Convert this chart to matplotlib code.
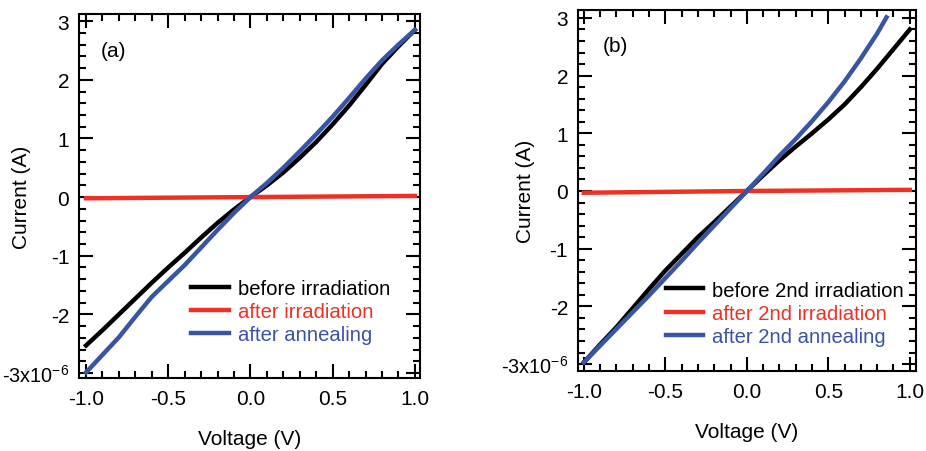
import numpy as np
import matplotlib
matplotlib.use("Agg")
import matplotlib.pyplot as plt
from matplotlib.ticker import FixedLocator, FixedFormatter, MultipleLocator

plt.rcParams['font.family'] = ['Liberation Sans', 'DejaVu Sans']
plt.rcParams['mathtext.fontset'] = 'custom'
plt.rcParams['mathtext.rm'] = 'Liberation Sans'
plt.rcParams['axes.unicode_minus'] = False

#-----data (current in units of 1e-6 A)-----#
v_a = [-1.0, -0.9, -0.8, -0.7, -0.6, -0.5, -0.4, -0.3, -0.2, -0.1, 0.0,
       0.1, 0.2, 0.3, 0.4, 0.5, 0.6, 0.7, 0.8, 0.9, 1.0]
before_a = [-2.53, -2.27, -2.00, -1.73, -1.46, -1.20, -0.95, -0.69, -0.44, -0.21, 0.0,
            0.20, 0.42, 0.67, 0.94, 1.24, 1.56, 1.91, 2.27, 2.57, 2.85]
after_irr_a = [-0.02, -0.018, -0.016, -0.014, -0.012, -0.01, -0.008, -0.006, -0.004, -0.002, 0.0,
               0.002, 0.004, 0.006, 0.008, 0.01, 0.012, 0.014, 0.016, 0.018, 0.02]
annealed_a = [-2.99, -2.69, -2.39, -2.04, -1.70, -1.43, -1.16, -0.86, -0.56, -0.27, 0.0,
              0.24, 0.50, 0.78, 1.07, 1.37, 1.69, 2.02, 2.33, 2.60, 2.85]

v_b = [-1.0, -0.9, -0.8, -0.7, -0.6, -0.5, -0.4, -0.3, -0.2, -0.1, 0.0,
       0.1, 0.2, 0.3, 0.4, 0.5, 0.6, 0.7, 0.8, 0.9, 1.0]
before_b = [-2.97, -2.66, -2.36, -2.03, -1.70, -1.38, -1.09, -0.80, -0.54, -0.27, 0.0,
            0.27, 0.53, 0.77, 1.00, 1.24, 1.50, 1.80, 2.12, 2.46, 2.80]
after_irr_b = [-0.03, -0.027, -0.024, -0.021, -0.018, -0.015, -0.012, -0.009, -0.006, -0.003, 0.0,
               0.002, 0.004, 0.006, 0.008, 0.01, 0.012, 0.014, 0.016, 0.018, 0.02]
v_b_ann = [-1.0, -0.9, -0.8, -0.7, -0.6, -0.5, -0.4, -0.3, -0.2, -0.1, 0.0,
           0.1, 0.2, 0.3, 0.4, 0.5, 0.6, 0.7, 0.8, 0.857]
annealed_b = [-2.97, -2.68, -2.39, -2.10, -1.81, -1.51, -1.21, -0.90, -0.60, -0.30, 0.0,
              0.30, 0.61, 0.90, 1.21, 1.54, 1.90, 2.30, 2.73, 3.01]

yticks = [-3, -2, -1, 0, 1, 2, 3]
ytick_labels = [r'-3x10$^{-6}$', '-2', '-1', '0', '1', '2', '3']
xticks = [-1.0, -0.5, 0.0, 0.5, 1.0]
xtick_labels = ['-1.0', '-0.5', '0.0', '0.5', '1.0']
#-----data-----#

black = '#000000'
red = '#ee3124'
blue = '#3a54a4'
fs = 15
lfs = 14.6

fig = plt.figure(figsize=(9.26, 4.52), dpi=100)
ax1 = fig.add_axes([0.0853, 0.1615, 0.368, 0.805])
ax2 = fig.add_axes([0.624, 0.177, 0.365, 0.799])


def style(ax, xlim, ylim):
    ax.set_xlim(*xlim)
    ax.set_ylim(*ylim)
    ax.xaxis.set_major_locator(FixedLocator(xticks))
    ax.xaxis.set_major_formatter(FixedFormatter(xtick_labels))
    ax.xaxis.set_minor_locator(MultipleLocator(0.1))
    ax.yaxis.set_major_locator(FixedLocator(yticks))
    ax.yaxis.set_major_formatter(FixedFormatter(ytick_labels))
    ax.yaxis.set_minor_locator(MultipleLocator(0.2))
    ax.tick_params(which='both', direction='in', top=True, right=True,
                   width=1.5, labelsize=fs)
    ax.tick_params(axis='x', pad=8)
    ax.tick_params(axis='y', pad=7)
    ax.tick_params(which='major', length=10)
    ax.tick_params(which='minor', length=5)
    for s in ax.spines.values():
        s.set_linewidth(1.5)
    ax.set_xlabel("Voltage (V)", fontsize=fs)
    ax.set_ylabel("Current (A)", fontsize=fs)
    # the long bottom label is a bit tighter in the original
    ax.get_yticklabels()[0].set_fontsize(14.3)


def add_legend(ax, x0, y0):
    leg = ax.legend(loc='lower left', bbox_to_anchor=(x0, y0), frameon=False,
                    fontsize=lfs, handlelength=1.85, handletextpad=0.45,
                    labelspacing=0.2, borderpad=0)
    for t, c in zip(leg.get_texts(), [black, red, blue]):
        t.set_color(c)


# panel (a)
ax1.plot(v_a, before_a, color=black, lw=3.2, label="before irradiation")
ax1.plot(v_a, after_irr_a, color=red, lw=3.2, label="after irradiation")
ax1.plot(v_a, annealed_a, color=blue, lw=3.2, label="after annealing")
style(ax1, (-1.043, 1.03), (-3.085, 3.12))
ax1.xaxis.set_label_coords(0.5, -0.14)
ax1.yaxis.set_label_coords(-0.142, 0.5)
ax1.text(0.10, 0.90, "(a)", transform=ax1.transAxes, fontsize=fs,
         ha='center', va='center')
add_legend(ax1, 0.30, 0.065)

# panel (b)
ax2.plot(v_b, before_b, color=black, lw=3.2, label="before 2nd irradiation")
ax2.plot(v_b, after_irr_b, color=red, lw=3.2, label="after 2nd irradiation")
ax2.plot(v_b_ann, annealed_b, color=blue, lw=3.2, label="after 2nd annealing")
style(ax2, (-1.037, 1.037), (-3.12, 3.14))
ax2.xaxis.set_label_coords(0.5, -0.141)
ax2.yaxis.set_label_coords(-0.127, 0.5)
ax2.text(0.11, 0.90, "(b)", transform=ax2.transAxes, fontsize=fs,
         ha='center', va='center')
add_legend(ax2, 0.23, 0.042)

fig.savefig("out.png", dpi=100)
